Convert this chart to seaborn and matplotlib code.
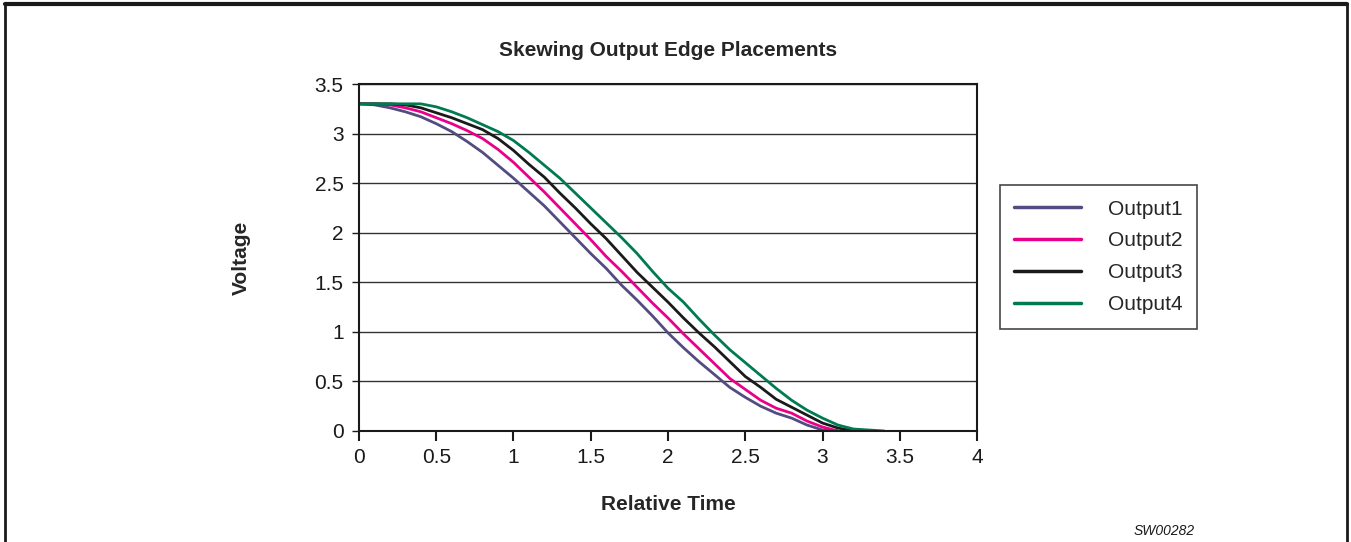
import pandas as pd
import matplotlib.pyplot as plt
import seaborn as sns
from matplotlib.lines import Line2D

# values, time step 0.1
time = [round(i * 0.1, 1) for i in range(35)]
output1 = [3.30, 3.29, 3.26, 3.22, 3.17, 3.10, 3.02, 2.92, 2.81, 2.68,
           2.55, 2.41, 2.27, 2.11, 1.95, 1.79, 1.64, 1.47, 1.32, 1.16,
           0.99, 0.84, 0.70, 0.57, 0.44, 0.34, 0.25, 0.18, 0.13, 0.06,
           0.01, 0.00]
output2 = [3.30, 3.30, 3.29, 3.26, 3.22, 3.16, 3.10, 3.03, 2.95, 2.84,
           2.71, 2.56, 2.41, 2.25, 2.09, 1.93, 1.76, 1.61, 1.45, 1.29,
           1.14, 0.98, 0.83, 0.68, 0.53, 0.42, 0.31, 0.23, 0.18, 0.10,
           0.04, 0.00]
output3 = [3.30, 3.30, 3.30, 3.29, 3.26, 3.21, 3.16, 3.10, 3.04, 2.95,
           2.83, 2.69, 2.56, 2.40, 2.25, 2.09, 1.94, 1.77, 1.60, 1.45,
           1.30, 1.14, 0.99, 0.85, 0.70, 0.55, 0.44, 0.32, 0.24, 0.16,
           0.08, 0.03, 0.00]
output4 = [3.30, 3.30, 3.30, 3.30, 3.30, 3.27, 3.22, 3.16, 3.09, 3.02,
           2.93, 2.81, 2.68, 2.55, 2.40, 2.25, 2.10, 1.95, 1.79, 1.61,
           1.44, 1.30, 1.13, 0.97, 0.82, 0.69, 0.56, 0.43, 0.31, 0.21,
           0.13, 0.06, 0.02, 0.01, 0.00]
series_names = ['Output1', 'Output2', 'Output3', 'Output4']
series_colors = ['#524c80', '#e8008a', '#1a1a1a', '#007a50']

frames = []
for name, vals in zip(series_names, [output1, output2, output3, output4]):
    frames.append(pd.DataFrame({'Relative Time': time[:len(vals)],
                                'Voltage': vals, 'Series': name}))
df = pd.concat(frames, ignore_index=True)

sns.set_style('white')
plt.rcParams['font.family'] = ['Liberation Sans', 'DejaVu Sans']

fig = plt.figure(figsize=(13.51, 5.42), dpi=100)
ax = fig.add_axes([0.2657, 0.2048, 0.4575, 0.6402])

sns.lineplot(data=df, x='Relative Time', y='Voltage', hue='Series',
             palette=series_colors, linewidth=2.0, ax=ax)

ax.set_xlim(0, 4)
ax.set_ylim(0, 3.5)
ax.set_xticks([0, 0.5, 1, 1.5, 2, 2.5, 3, 3.5, 4])
ax.set_xticklabels(['0', '0.5', '1', '1.5', '2', '2.5', '3', '3.5', '4'])
ax.set_yticks([0, 0.5, 1, 1.5, 2, 2.5, 3, 3.5])
ax.set_yticklabels(['0', '0.5', '1', '1.5', '2', '2.5', '3', '3.5'])
ax.yaxis.grid(True, color='#333333', linewidth=1)
ax.xaxis.grid(False)
ax.tick_params(axis='x', direction='out', length=7, width=1.5, colors='#1a1a1a',
               labelsize=15, pad=5, bottom=True)
ax.tick_params(axis='y', direction='out', length=5, width=1, colors='#1a1a1a',
               labelsize=15, pad=6, left=True)
for side in ['left', 'bottom', 'top', 'right']:
    ax.spines[side].set_color('#1a1a1a')
    ax.spines[side].set_linewidth(1.5)

ax.set_xlabel('Relative Time', fontsize=15, fontweight='bold')
ax.set_ylabel('Voltage', fontsize=15, fontweight='bold')
ax.xaxis.set_label_coords(0.5, -0.185)
ax.yaxis.set_label_coords(-0.175, 0.5)
ax.set_title('Skewing Output Edge Placements', fontsize=15,
             fontweight='bold', pad=20)

leg = ax.legend(loc='upper left', bbox_to_anchor=(1.037, 0.709), title=None,
                fontsize=15, frameon=True, fancybox=False, handlelength=3.2,
                borderpad=0.7, labelspacing=0.62, handletextpad=1.3,
                borderaxespad=0)
leg.get_frame().set_edgecolor('#1a1a1a')
leg.get_frame().set_linewidth(1.2)
for line in leg.get_lines():
    line.set_linewidth(2.5)

fig.text(0.862, 0.008, 'SW00282', fontsize=10, fontstyle='italic',
         ha='center', va='bottom', color='#1a1a1a')

# outer frame (bottom edge cut off in the reference)
fig.add_artist(Line2D([0.0035, 0.997], [0.992, 0.992], color='#1a1a1a',
                      linewidth=3, transform=fig.transFigure))
fig.add_artist(Line2D([0.0035, 0.0035], [0.0, 0.992], color='#1a1a1a',
                      linewidth=2, transform=fig.transFigure))
fig.add_artist(Line2D([0.997, 0.997], [0.0, 0.992], color='#1a1a1a',
                      linewidth=2, transform=fig.transFigure))

fig.savefig('out.png', dpi=100)
